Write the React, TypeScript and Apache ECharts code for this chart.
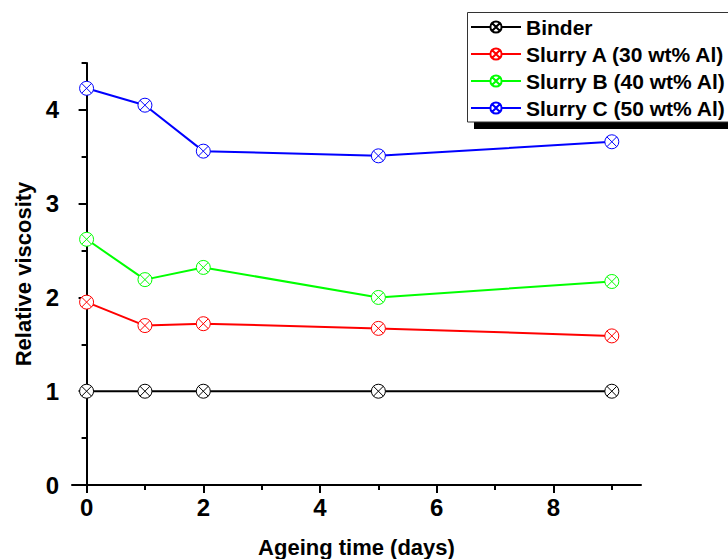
import React, { useEffect, useRef } from "react";
import * as echarts from "echarts";

const xDays = [0, 1, 2, 5, 9];
const binder = [1.0, 1.0, 1.0, 1.0, 1.0];
const slurryA = [1.95, 1.7, 1.72, 1.67, 1.59];
const slurryB = [2.62, 2.19, 2.32, 2.0, 2.17];
const slurryC = [4.23, 4.05, 3.56, 3.51, 3.66];

const seriesNames = ["Binder", "Slurry A (30 wt% Al)", "Slurry B (40 wt% Al)", "Slurry C (50 wt% Al)"];
const seriesColors = ["#000000", "#ff0000", "#00ff00", "#0000ff"];
const seriesValues = [binder, slurryA, slurryB, slurryC];

const xMajorTicks = [0, 2, 4, 6, 8];
const xMinorTicks = [1, 3, 5, 7, 9];
const yMajorTicks = [0, 1, 2, 3, 4];
const yMinorTicks = [0.5, 1.5, 2.5, 3.5, 4.5];

const FONT = "'Liberation Sans', Arial, sans-serif";
const SYMBOL =
  "path://M10,0A10,10,0,1,1,10,20A10,10,0,1,1,10,0ZM2.93,2.93L17.07,17.07M17.07,2.93L2.93,17.07";

export default function App() {
  const ref = useRef<HTMLDivElement>(null);
  useEffect(() => {
    if (!ref.current) return;
    const chart = echarts.init(ref.current, undefined, { renderer: "svg" });
    const axisLine = { show: true, lineStyle: { color: "#000", width: 2 } };
    const xBase = {
      type: "value",
      min: -0.25,
      max: 9.5,
      splitLine: { show: false },
      gridIndex: 0,
    };
    const yBase = {
      type: "value",
      min: 0,
      max: 4.5,
      splitLine: { show: false },
      gridIndex: 0,
    };
    chart.setOption({
      animation: false,
      backgroundColor: "#fff",
      grid: { left: 72, top: 63, right: 87, bottom: 74, outerBoundsMode: "none", containLabel: false },
      xAxis: [
        {
          ...xBase,
          position: "bottom",
          axisLine,
          axisTick: { show: true, customValues: xMajorTicks, length: 8, lineStyle: { color: "#000", width: 2 } },
          axisLabel: {
            customValues: xMajorTicks,
            margin: 10,
            color: "#000",
            fontWeight: "bold",
            fontSize: 24,
            fontFamily: FONT,
          },
          name: "Ageing time (days)",
          nameLocation: "middle",
          nameGap: 51,
          nameTextStyle: {
            color: "#000",
            fontWeight: "bold",
            fontSize: 22,
            lineHeight: 22,
            fontFamily: FONT,
            verticalAlign: "top",
          },
        },
        {
          ...xBase,
          position: "bottom",
          axisLine: { show: false },
          axisTick: { show: true, customValues: xMinorTicks, length: 5, lineStyle: { color: "#000", width: 2 } },
          axisLabel: { show: false },
        },
      ],
      yAxis: [
        {
          ...yBase,
          position: "left",
          axisLine,
          axisTick: { show: true, customValues: yMajorTicks, length: 8, lineStyle: { color: "#000", width: 2 } },
          axisLabel: {
            customValues: yMajorTicks,
            margin: 13,
            color: "#000",
            fontWeight: "bold",
            fontSize: 24,
            fontFamily: FONT,
          },
          name: "Relative viscosity",
          nameLocation: "middle",
          nameRotate: 90,
          nameGap: 38,
          nameTextStyle: {
            color: "#000",
            fontWeight: "bold",
            fontSize: 22,
            fontFamily: FONT,
          },
        },
        {
          ...yBase,
          position: "left",
          axisLine: { show: false },
          axisTick: { show: true, customValues: yMinorTicks, length: 5, lineStyle: { color: "#000", width: 2 } },
          axisLabel: { show: false },
        },
      ],
      legend: {
        orient: "vertical",
        left: 467,
        top: 12,
        padding: [4, 3, 3, 3],
        itemWidth: 50,
        itemHeight: 14,
        itemGap: 5,
        data: seriesNames,
        textStyle: {
          color: "#000",
          fontWeight: "bold",
          fontSize: 21,
          lineHeight: 22,
          fontFamily: FONT,
        },
      },
      graphic: [
        {
          type: "rect",
          z: 0,
          shape: { x: 474, y: 19, width: 320, height: 110 },
          style: { fill: "#000" },
        },
        {
          type: "rect",
          z: 1,
          shape: { x: 467.5, y: 12.5, width: 320, height: 109.5 },
          style: { fill: "#fff", stroke: "#333", lineWidth: 1 },
        },
      ],
      series: seriesNames.map((name, i) => ({
        name,
        type: "line",
        xAxisIndex: 0,
        yAxisIndex: 0,
        data: xDays.map((x, j) => [x, seriesValues[i][j]]),
        symbol: SYMBOL,
        symbolSize: 14,
        lineStyle: { color: seriesColors[i], width: 2 },
        itemStyle: { color: "#fff", borderColor: seriesColors[i], borderWidth: 1 },
        z: 3 + i,
      })),
    });
    return () => chart.dispose();
  }, []);
  return <div ref={ref} style={{ position: "fixed", left: 0, top: 0, width: 728, height: 559 }} />;
}
